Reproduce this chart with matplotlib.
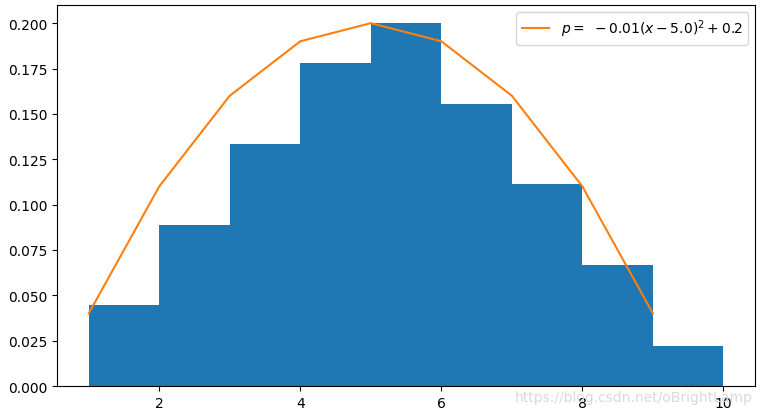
import numpy as np
import matplotlib
matplotlib.use('Agg')
import matplotlib.pyplot as plt

# histogram bins and normalized heights
bin_edges = [1, 2, 3, 4, 5, 6, 7, 8, 9, 10]
bin_heights = [0.0444, 0.0889, 0.1333, 0.1778, 0.2000, 0.1556, 0.1111, 0.0667, 0.0222]

# fitted curve p = -0.01(x-5)^2 + 0.2
curve_x = [1, 2, 3, 4, 5, 6, 7, 8, 9]
curve_y = [0.04, 0.11, 0.16, 0.19, 0.20, 0.19, 0.16, 0.11, 0.04]

fig = plt.figure(figsize=(7.63, 4.14), dpi=100)
ax = fig.add_axes([0.0747, 0.0652, 0.9150, 0.9203])

ax.hist(bin_edges[:-1], bins=bin_edges, weights=bin_heights, color='#1f77b4')
ax.plot(curve_x, curve_y, color='#ff7f0e', label=r'$p = \ -0.01(x-5.0)^2+0.2$')
ax.legend(loc='upper right')

# watermark
fig.text(0.987, 0.022, 'https://blog.csdn.net/oBrightLamp', ha='right', va='bottom',
         color='#d9d9d9', fontsize=10)

fig.savefig('out.png', dpi=100)
